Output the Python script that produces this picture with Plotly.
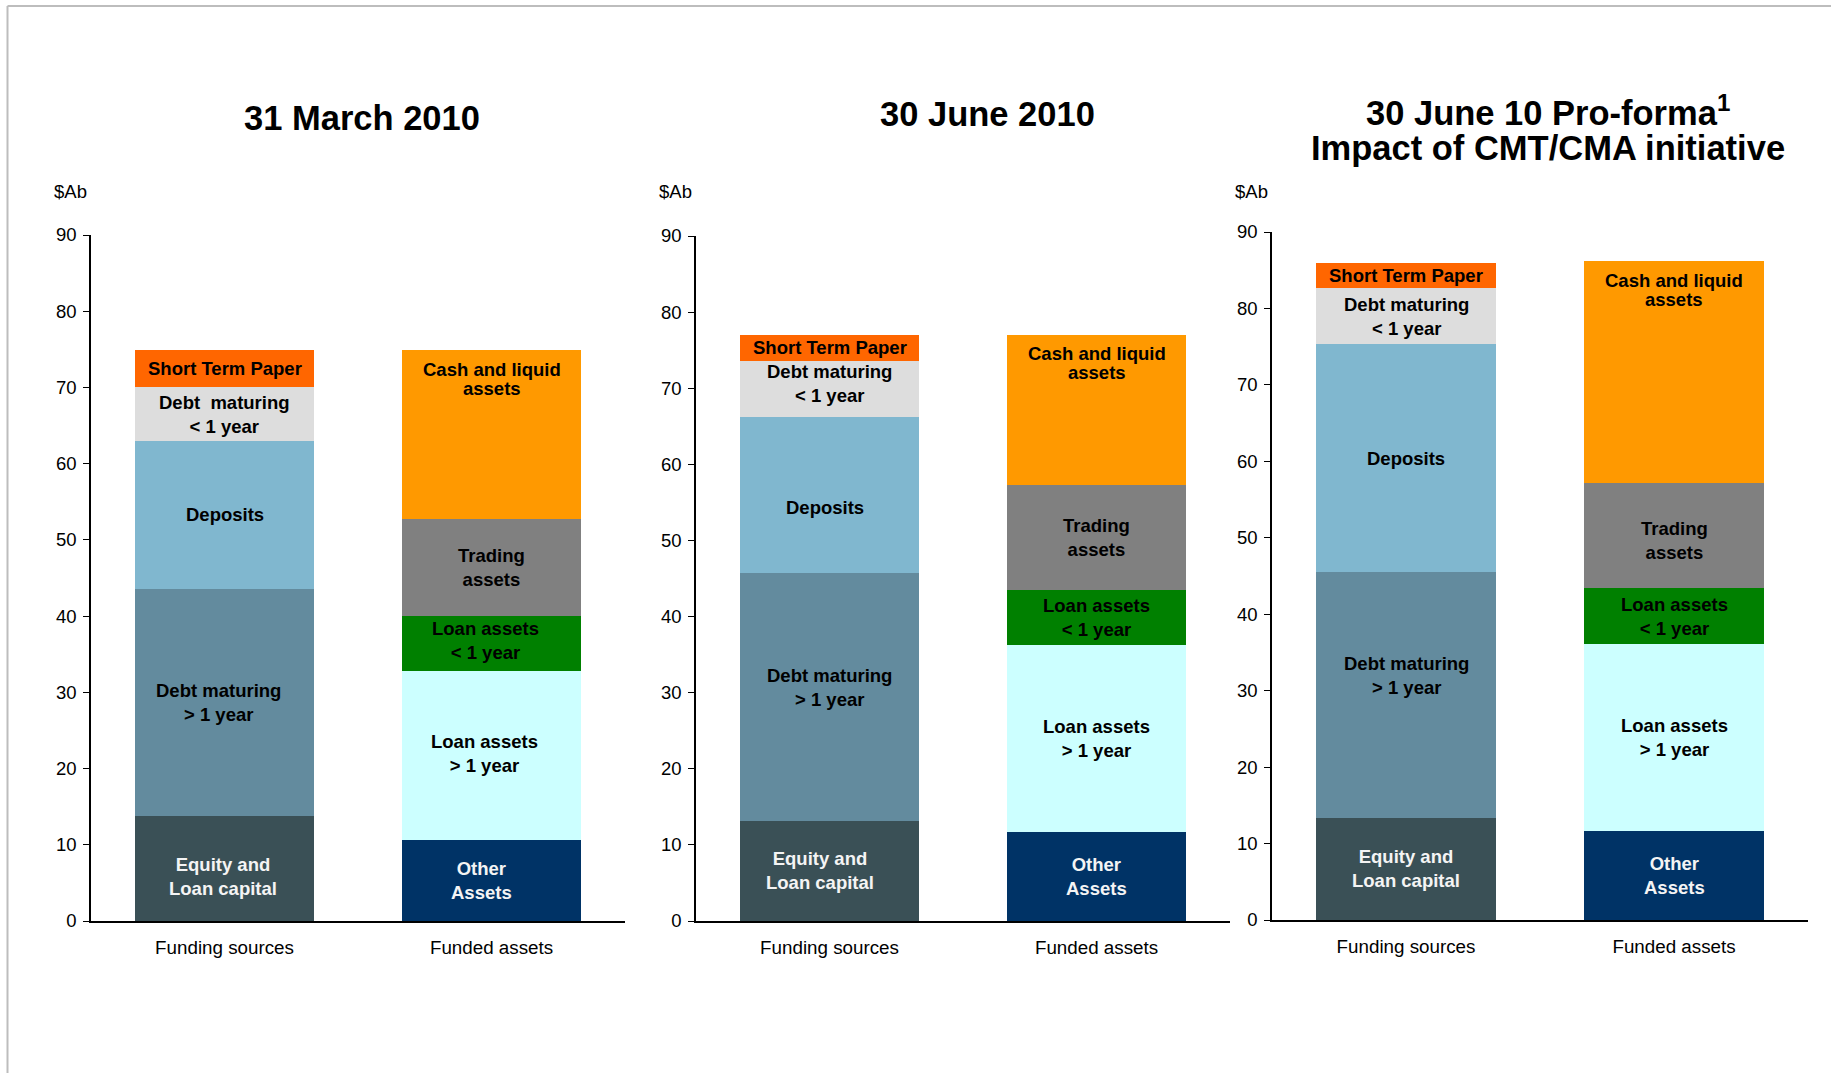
import plotly.graph_objects as go

# ---- data ($A billions) ----
categories = ["Funding sources", "Funded assets"]

panel_titles = ["31 March 2010", "30 June 2010", "30 June 10 Pro-forma<sup>1</sup>"]
panel_subtitle = "Impact of CMT/CMA initiative"

funding_segments = ["Equity and Loan capital", "Debt maturing > 1 year", "Deposits",
                    "Debt maturing < 1 year", "Short Term Paper"]
asset_segments = ["Other Assets", "Loan assets > 1 year", "Loan assets < 1 year",
                  "Trading assets", "Cash and liquid assets"]

funding_mar10 = [13.8, 29.8, 19.4, 7.0, 4.9]
assets_mar10 = [10.6, 22.2, 7.2, 12.7, 22.2]

funding_jun10 = [13.2, 32.5, 20.5, 7.4, 3.4]
assets_jun10 = [11.7, 24.6, 7.2, 13.8, 19.7]

funding_proforma = [13.4, 32.1, 29.8, 7.4, 3.2]
assets_proforma = [11.6, 24.5, 7.3, 13.8, 29.0]

y_ticks = [0, 10, 20, 30, 40, 50, 60, 70, 80, 90]

# ---- styling ----
FONT = "Liberation Sans, Arial, Helvetica, sans-serif"
W, H = 1831, 1073

funding_colors = ["#3A5056", "#638B9E", "#80B7CF", "#DDDDDD", "#FF6600"]
asset_colors = ["#003366", "#CCFFFF", "#008000", "#808080", "#FF9900"]
funding_text_colors = ["#F4F4F4", "black", "black", "black", "black"]
asset_text_colors = ["#F4F4F4", "black", "black", "black", "black"]

funding_labels = [
    ["Equity and<br>Loan capital", "Debt maturing<br>&gt; 1 year", "Deposits",
     "Debt&nbsp; maturing<br>&lt; 1 year", "Short Term Paper"],
    ["Equity and<br>Loan capital", "Debt maturing<br>&gt; 1 year", "Deposits",
     "Debt maturing<br>&lt; 1 year", "Short Term Paper"],
    ["Equity and<br>Loan capital", "Debt maturing<br>&gt; 1 year", "Deposits",
     "Debt maturing<br>&lt; 1 year", "Short Term Paper"],
]
asset_labels = ["Other<br>Assets", "Loan assets<br>&gt; 1 year", "Loan assets<br>&lt; 1 year",
                "Trading<br>assets", None]
cash_lines = ["Cash and liquid", "assets"]

# small pixel nudges for individual segment labels: (panel, side, segment) -> (dx, dy)
label_nudge = {
    (0, 0, 0): (-2, -8), (0, 0, 1): (-6, 0),
    (0, 1, 0): (-10, 0), (0, 1, 1): (-7, 2), (0, 1, 2): (-6, 3),
    (1, 0, 0): (-10, 0), (1, 0, 1): (0, 9), (1, 0, 2): (-5, -12), (1, 0, 3): (0, 5),
    (2, 0, 1): (0, 19), (2, 1, 3): (0, -5),
}

# plot areas in pixels: (left, right, top_at_90, bottom_at_0)
panel_px = [(91, 625, 235, 921), (696, 1230, 236, 921), (1272, 1808, 232, 920)]
title_px = [(362, 118), (987, 114), (1548, 110.5)]
subtitle_px = (1548, 148)
units_y_px = 191.5

panels = [(funding_mar10, assets_mar10), (funding_jun10, assets_jun10),
          (funding_proforma, assets_proforma)]

fig = go.Figure()
annotations = []
layout_axes = {}

for p, (funding, assets) in enumerate(panels):
    sfx = "" if p == 0 else str(p + 1)
    xa, ya = "x" + sfx, "y" + sfx
    left, right, top, bottom = panel_px[p]

    for side, (vals, colors, tcolors) in enumerate(
            [(funding, funding_colors, funding_text_colors),
             (assets, asset_colors, asset_text_colors)]):
        names = funding_segments if side == 0 else asset_segments
        base = 0.0
        for s, (v, c) in enumerate(zip(vals, colors)):
            fig.add_trace(go.Bar(
                x=[categories[side]], y=[v], name=names[s], width=0.67,
                marker=dict(color=c, line=dict(width=0)),
                xaxis=xa, yaxis=ya, showlegend=False, hoverinfo="name+y",
            ))
            dx, dy = label_nudge.get((p, side, s), (0, 0))
            if side == 1 and s == 4:
                # cash label sits at the top of its block, tightly spaced
                for k, line in enumerate(cash_lines):
                    annotations.append(dict(
                        x=side, y=base + v, xref=xa, yref=ya, text="<b>%s</b>" % line,
                        showarrow=False, xanchor="center", yanchor="middle",
                        xshift=dx, yshift=-19 - 19 * k,
                        font=dict(family=FONT, size=18.5, color=tcolors[s]),
                    ))
            else:
                text = funding_labels[p][s] if side == 0 else asset_labels[s]
                annotations.append(dict(
                    x=side, y=base + v / 2, xref=xa, yref=ya,
                    text="<b>%s</b>" % text.replace("<br>", "</b><br><b>"),
                    showarrow=False, xanchor="center", yanchor="middle",
                    xshift=dx, yshift=dy, align="center",
                    font=dict(family=FONT, size=18.5, color=tcolors[s]),
                ))
            base += v

    layout_axes["xaxis" + sfx] = dict(
        domain=[left / W, right / W], anchor=ya, type="category",
        categoryorder="array", categoryarray=categories, range=[-0.5, 1.5],
        showline=True, linecolor="black", linewidth=1.5, ticks="",
        showgrid=False, zeroline=False, ticklabelstandoff=9, automargin=False,
        tickfont=dict(family=FONT, size=18.8, color="black"), fixedrange=True,
    )
    layout_axes["yaxis" + sfx] = dict(
        domain=[1 - bottom / H, 1 - top / H], anchor=xa, range=[0, 90],
        tickmode="array", tickvals=y_ticks, ticks="outside", ticklen=6,
        tickcolor="black", tickwidth=1.2, showline=True, linecolor="black",
        linewidth=1.5, showgrid=False, zeroline=False, ticklabelstandoff=3,
        automargin=False,
        tickfont=dict(family=FONT, size=18.5, color="black"), fixedrange=True,
    )

    # units label above each value axis
    annotations.append(dict(
        x=left / W, y=1 - units_y_px / H, xref="paper", yref="paper", text="$Ab",
        showarrow=False, xanchor="center", yanchor="middle", xshift=-21,
        font=dict(family=FONT, size=18.5, color="black"),
    ))
    tx, ty = title_px[p]
    annotations.append(dict(
        x=tx / W, y=1 - ty / H, xref="paper", yref="paper",
        text="<b>%s</b>" % panel_titles[p], showarrow=False,
        xanchor="center", yanchor="middle",
        font=dict(family=FONT, size=34.5, color="black"),
    ))

annotations.append(dict(
    x=subtitle_px[0] / W, y=1 - subtitle_px[1] / H, xref="paper", yref="paper",
    text="<b>%s</b>" % panel_subtitle, showarrow=False,
    xanchor="center", yanchor="middle",
    font=dict(family=FONT, size=34.5, color="black"),
))

# thin grey frame along the top and left edges of the slide
frame = [
    dict(type="line", xref="paper", yref="paper", x0=7.5 / W, x1=1.0,
         y0=1 - 6 / H, y1=1 - 6 / H, line=dict(color="#BDBDBD", width=2)),
    dict(type="line", xref="paper", yref="paper", x0=7.5 / W, x1=7.5 / W,
         y0=0, y1=1 - 6 / H, line=dict(color="#BDBDBD", width=2)),
]

fig.update_layout(
    template="none", autosize=False,
    width=W, height=H, margin=dict(l=0, r=0, t=0, b=0, pad=0),
    paper_bgcolor="white", plot_bgcolor="white", barmode="stack", bargap=0,
    font=dict(family=FONT, color="black"),
    annotations=annotations, shapes=frame, **layout_axes,
)

fig.write_html("out.html")
